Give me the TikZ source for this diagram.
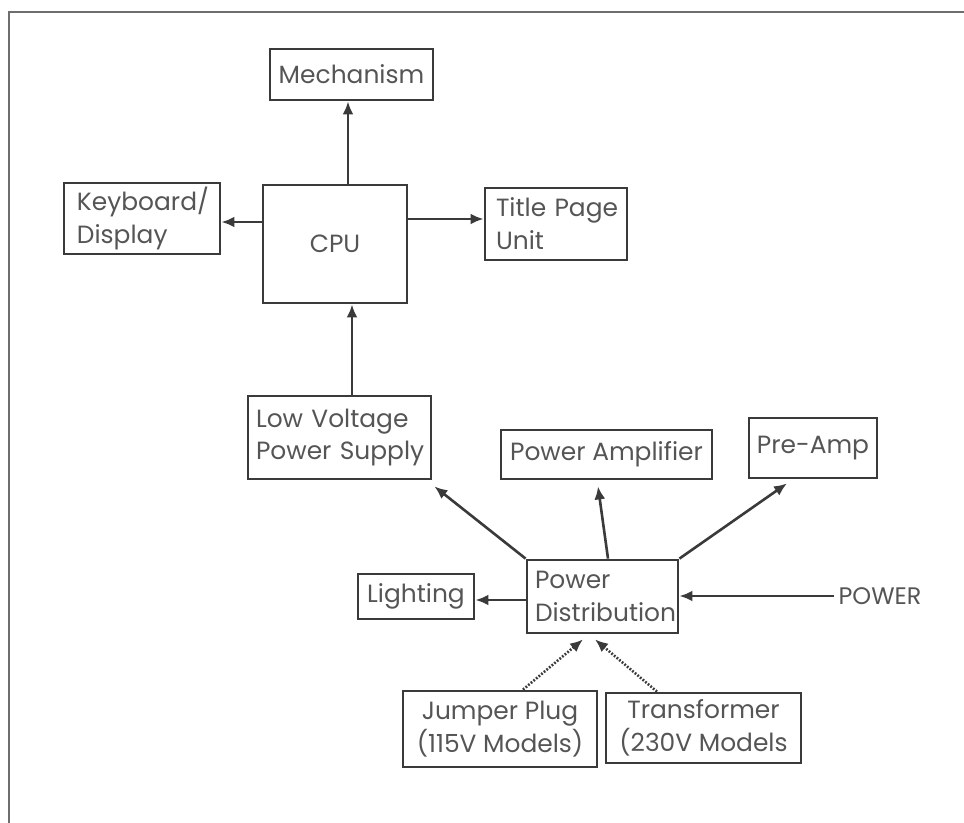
\documentclass[tikz,border=0pt]{standalone}
\usepackage{fontspec}
\setmainfont{Poppins}
\usepackage{tikz}
\usetikzlibrary{arrows.meta}
\definecolor{linegray}{HTML}{3A3A3A}
\definecolor{textgray}{HTML}{555555}
\definecolor{framegray}{HTML}{6E6E6E}

\begin{document}
\begin{tikzpicture}[x=1bp, y=-1bp,
        main/.style = {draw=linegray, line width=2.8bp, rectangle, inner sep=0pt, text=textgray, font=\fontsize{25}{33}\selectfont},
        leftbox/.style = {main, align=left, inner xsep=#1},
        link/.style = {draw=linegray, line width=2.6bp, -{Latex[length=13bp,width=11bp]}},
        dots/.style = {link, dash pattern=on 1.8bp off 1.6bp}]
            \useasboundingbox (0,0) rectangle (964,823);
            \draw[framegray, line width=2.8bp] (964,12) -- (9,12) -- (9,823);

            \node[main, minimum width=163bp, minimum height=51bp] (mech) at (351.5,74.5) {Mechanism};
            \node[leftbox=13bp, text width=130bp, minimum height=71bp] (kd) at (142,218.5) {\mbox{Keyboard/}\\Display};
            \node[main, minimum width=144bp, minimum height=118bp] (cpu) at (335,244) {CPU};
            \node[leftbox=11bp, text width=120bp, minimum height=72bp] (tpu) at (556,224) {\mbox{Title Page}\\Unit};
            \node[leftbox=8bp, text width=167bp, minimum height=83bp] (lvps) at (339.5,437.5) {\mbox{Low Voltage}\\\mbox{Power Supply}};
            \node[main, minimum width=211bp, minimum height=49bp] (pa) at (606.5,454.5) {Power Amplifier};
            \node[main, minimum width=128bp, minimum height=60bp] (pre) at (813,448) {Pre-Amp};
            \node[leftbox=8bp, text width=135bp, minimum height=73bp] (pd) at (602.5,596.5) {Power\\\mbox{Distribution}};
            \node[main, minimum width=116bp, minimum height=45bp] (light) at (416,596.5) {Lighting};
            \node[main, align=center, minimum width=194bp, minimum height=76bp] (jp) at (500,729) {Jumper Plug\\(115V Models)};
            \node[main, align=center, minimum width=195bp, minimum height=70bp] (tr) at (703.5,728) {Transformer\\(230V Models};
            \node[text=textgray, font=\fontsize{24}{30}\selectfont, inner sep=0pt, inner xsep=4bp] (pwr) at (880,596) {POWER};

            \draw[link] ([xshift=13bp]cpu.north) -- ([xshift=13bp]cpu.north |- mech.south);
            \draw[link] ([yshift=22bp]cpu.west) -- ([yshift=22bp]cpu.west -| kd.east);
            \draw[link] ([yshift=25bp]cpu.east) -- ([yshift=25bp]cpu.east -| tpu.west);
            \draw[link] ([xshift=12.5bp]lvps.north) -- ([xshift=12.5bp]lvps.north |- cpu.south);

            \draw[link] (pd.north west) -- ([shift={(2bp,-6bp)}]lvps.south east);
            \draw[link] ([xshift=5.5bp]pd.north) -- ([shift={(-8.5bp,-6bp)}]pa.south);
            \draw[link] (pd.north east) -- ([shift={(-26bp,-4bp)}]pre.south);
            \draw[link] ([yshift=-3.5bp]pd.west) -- ([yshift=-3.5bp]pd.west -| light.east);
            \draw[link] (pwr.west) -- (pwr.west -| pd.east);

            \draw[dots] ([xshift=23bp]jp.north) -- ([shift={(-19.5bp,-5bp)}]pd.south);
            \draw[dots] ([xshift=-46.5bp]tr.north) -- ([shift={(-7.5bp,-5bp)}]pd.south);
        \end{tikzpicture}
\end{document}
